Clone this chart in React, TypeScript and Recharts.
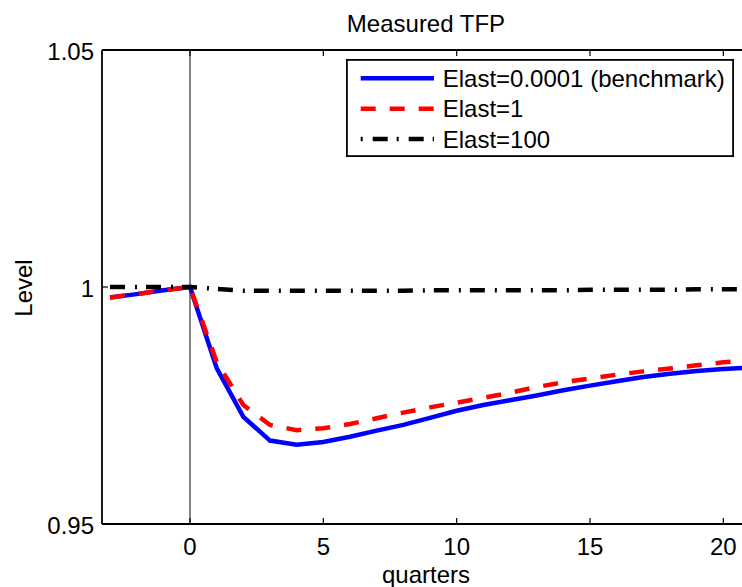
import React from 'react';
import { LineChart, Line, XAxis, YAxis, ReferenceLine, Legend, Label } from 'recharts';

const quarters = [-3, -2, -1, 0, 1, 2, 3, 4, 5, 6, 7, 8, 9, 10, 11, 12, 13, 14, 15, 16, 17, 18, 19, 20, 21];
const elastBenchmark = [0.9978, 0.9985, 0.9993, 1.0, 0.9829, 0.9726, 0.9676, 0.9667, 0.9673, 0.9684, 0.9697, 0.9709, 0.9724, 0.9739, 0.9751, 0.9761, 0.9771, 0.9782, 0.9792, 0.9801, 0.981, 0.9817, 0.9823, 0.9827, 0.983];
const elast1 = [0.9978, 0.9985, 0.9993, 1.0, 0.9842, 0.9751, 0.9709, 0.9698, 0.9702, 0.9711, 0.9723, 0.9735, 0.9746, 0.9756, 0.9766, 0.9777, 0.9789, 0.9799, 0.9807, 0.9815, 0.9822, 0.9828, 0.9835, 0.9841, 0.9845];
const elast100 = [1.0, 1.0, 1.0, 1.0, 0.9996, 0.9992, 0.9992, 0.9992, 0.9992, 0.9992, 0.9992, 0.9992, 0.9993, 0.9993, 0.9993, 0.9993, 0.9993, 0.9993, 0.9994, 0.9994, 0.9994, 0.9994, 0.9995, 0.9995, 0.9995];

const xTicks = [0, 5, 10, 15, 20];
const yTicks = [0.95, 1, 1.05];
const seriesNames = ['Elast=0.0001 (benchmark)', 'Elast=1', 'Elast=100'];
const titleText = 'Measured TFP';
const xLabel = 'quarters';
const yLabel = 'Level';

const data = quarters.map((q, i) => ({ q, a: elastBenchmark[i], b: elast1[i], c: elast100[i] }));

const FONT = '"Liberation Sans", Arial, Helvetica, sans-serif';
const FS = 24;
const AXIS_W = 1.8;
const LINE_W = 4.5;
const TICK = -6;

const BottomTick = (props: any) => {
  const { x, y, payload } = props;
  return (
    <text x={x} y={y + 37} textAnchor="middle" fontSize={FS} fontFamily={FONT} fill="#000">
      {String(payload.value)}
    </text>
  );
};

const EmptyTick = () => <g />;

const LeftTick = (props: any) => {
  const { x, y, payload } = props;
  return (
    <text x={x - 14} y={y + 10} textAnchor="end" fontSize={FS} fontFamily={FONT} fill="#000">
      {String(payload.value)}
    </text>
  );
};

const TitleLabel = (props: any) => {
  const vb = props.viewBox || {};
  const cx = vb.x + vb.width / 2;
  return (
    <text x={cx} y={31.5} textAnchor="middle" fontSize={FS} fontFamily={FONT} fill="#000">
      {titleText}
    </text>
  );
};

const XLabelComp = (props: any) => {
  const vb = props.viewBox || {};
  const cx = vb.x + vb.width / 2;
  return (
    <text x={cx} y={583} textAnchor="middle" fontSize={FS} fontFamily={FONT} fill="#000">
      {xLabel}
    </text>
  );
};

const YLabelComp = (props: any) => {
  const vb = props.viewBox || {};
  const cy = vb.y + vb.height / 2 + 1;
  return (
    <text x={31.5} y={cy} transform={`rotate(-90, 31.5, ${cy})`} textAnchor="middle" fontSize={FS} fontFamily={FONT} fill="#000">
      {yLabel}
    </text>
  );
};

const LegendContent = () => {
  const rows = [
    { name: seriesNames[0], color: '#0000ff', dash: undefined as string | undefined },
    { name: seriesNames[1], color: '#ff0000', dash: '15 14' },
    { name: seriesNames[2], color: '#000000', dash: '2 10 15 9' },
  ];
  return (
    <svg width={388} height={98} style={{ display: 'block' }}>
      <rect x={0.9} y={0.9} width={386.2} height={96.2} fill="#fff" stroke="#000" strokeWidth={1.8} />
      {rows.map((r, i) => {
        const cy = 19.3 + i * 30.4;
        return (
          <g key={r.name}>
            <line x1={14.7} x2={88} y1={cy} y2={cy} stroke={r.color} strokeWidth={LINE_W} strokeDasharray={r.dash} />
            <text x={96.7} y={cy + 8.6} fontSize={FS} fontFamily={FONT} fill="#000">
              {r.name}
            </text>
          </g>
        );
      })}
    </svg>
  );
};

export default function App() {
  return (
    <div style={{ position: 'fixed', left: 0, top: 0, width: 742, height: 587, overflow: 'hidden', background: '#fff' }}>
      <LineChart
        width={760}
        height={587}
        data={data}
        margin={{ top: 49, right: 10, bottom: 62, left: 0 }}
        style={{ background: '#fff' }}
      >
        <XAxis
          xAxisId="bottom"
          dataKey="q"
          type="number"
          domain={[-3.3, 21]}
          allowDataOverflow
          ticks={xTicks}
          interval={0}
          orientation="bottom"
          height={1}
          stroke="#000"
          tickSize={TICK}
          tickMargin={0}
          tickLine={{ stroke: '#000', strokeWidth: 1.2 }}
          axisLine={{ stroke: '#000', strokeWidth: AXIS_W }}
          tick={<BottomTick />}
        >
          <Label content={<XLabelComp />} />
        </XAxis>
        <XAxis
          xAxisId="top"
          dataKey="q"
          type="number"
          domain={[-3.3, 21]}
          allowDataOverflow
          ticks={xTicks}
          interval={0}
          orientation="top"
          height={1}
          stroke="#000"
          tickSize={TICK}
          tickMargin={0}
          tickLine={{ stroke: '#000', strokeWidth: 1.2 }}
          axisLine={{ stroke: '#000', strokeWidth: AXIS_W }}
          tick={<EmptyTick />}
        >
          <Label content={<TitleLabel />} />
        </XAxis>
        <YAxis
          domain={[0.95, 1.05]}
          allowDataOverflow
          ticks={yTicks}
          interval={0}
          width={102}
          stroke="#000"
          tickSize={TICK}
          tickMargin={0}
          tickLine={{ stroke: '#000', strokeWidth: 1.2 }}
          axisLine={{ stroke: '#000', strokeWidth: AXIS_W }}
          tick={<LeftTick />}
        >
          <Label content={<YLabelComp />} />
        </YAxis>
        <ReferenceLine x={0} xAxisId="bottom" stroke="#444" strokeWidth={1.3} />
        <Legend
          layout="horizontal"
          verticalAlign="middle"
          align="center"
          wrapperStyle={{ left: 346, top: 59, width: 388, height: 98 }}
          content={<LegendContent />}
        />
        <Line
          xAxisId="bottom"
          type="linear"
          dataKey="a"
          name={seriesNames[0]}
          stroke="#0000ff"
          strokeWidth={LINE_W}
          dot={false}
          isAnimationActive={false}
        />
        <Line
          xAxisId="bottom"
          type="linear"
          dataKey="b"
          name={seriesNames[1]}
          stroke="#ff0000"
          strokeWidth={LINE_W}
          strokeDasharray="15 14"
          dot={false}
          isAnimationActive={false}
        />
        <Line
          xAxisId="bottom"
          type="linear"
          dataKey="c"
          name={seriesNames[2]}
          stroke="#000000"
          strokeWidth={LINE_W}
          strokeDasharray="15 10 2 9"
          dot={false}
          isAnimationActive={false}
        />
      </LineChart>
    </div>
  );
}
